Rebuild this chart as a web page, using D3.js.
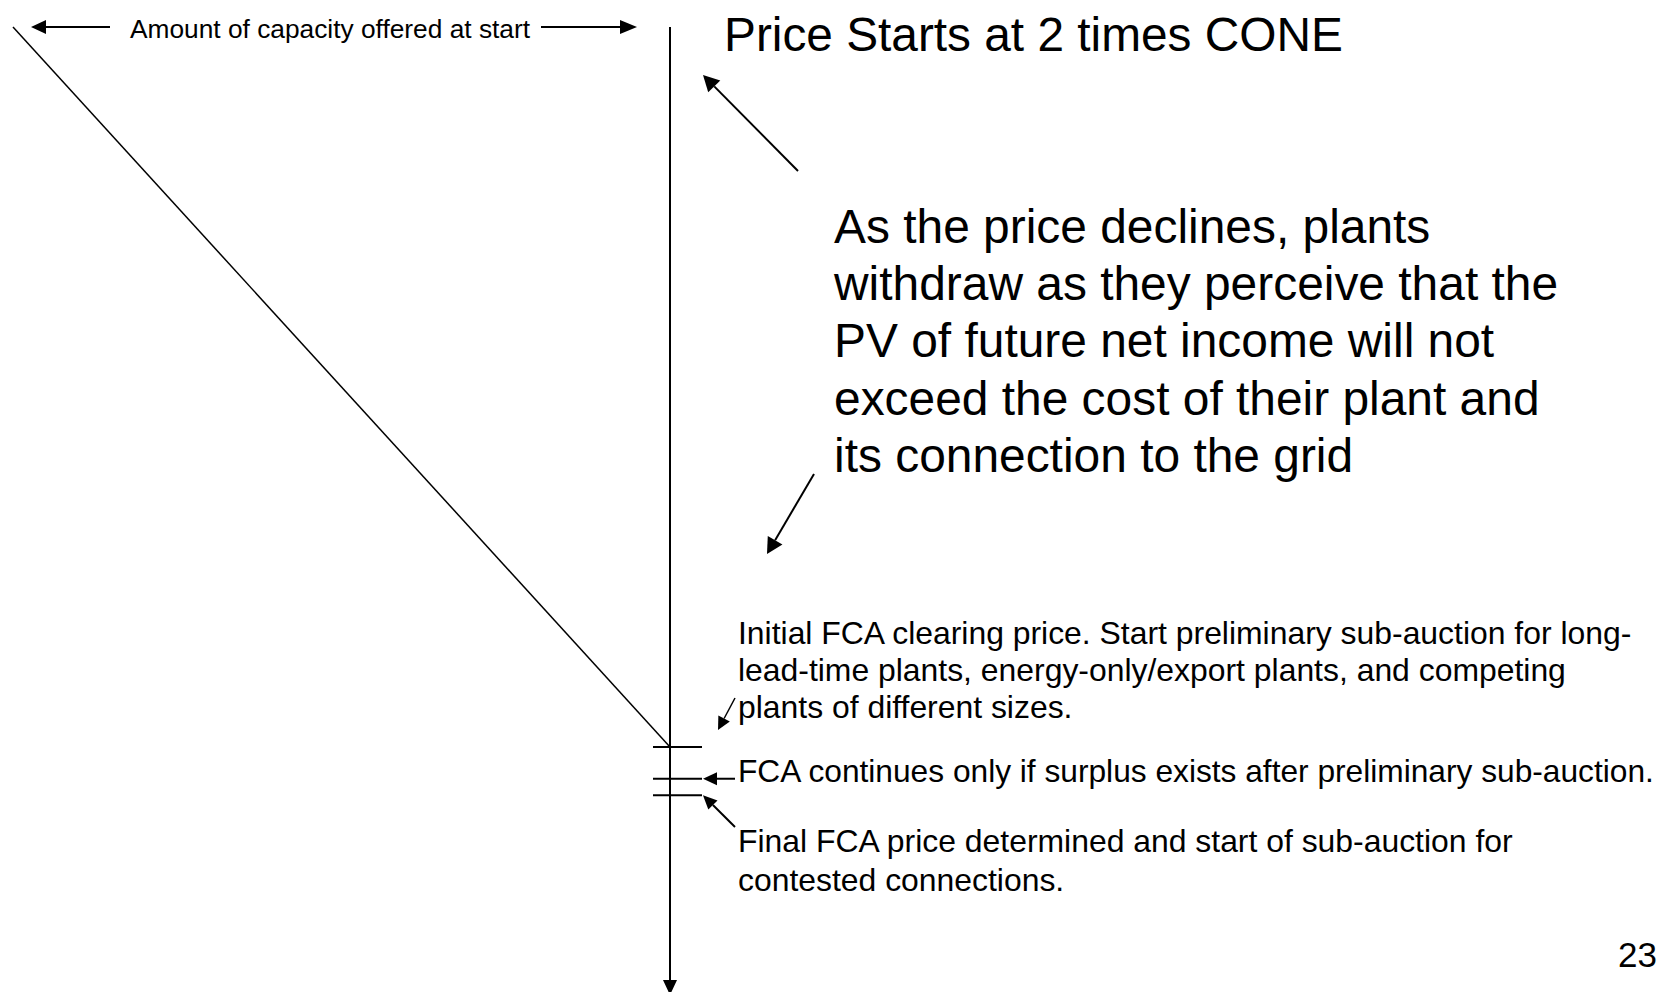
<!DOCTYPE html>
<html>
<head>
<meta charset="utf-8">
<script src="https://cdn.jsdelivr.net/npm/d3@7"></script>
<style>
  html, body { margin: 0; padding: 0; background: #fff; }
  svg { display: block; }
</style>
</head>
<body>
<div id="fca-auction"></div>
<script>
// price in multiples of CONE, capacity as share of what is offered at start
const priceRange = [2, 0];
const capacityRange = [0, 1];
const supplyCurve = [
  { capacity: 1, price: 2 },
  { capacity: 0, price: 0.508 }
];
const priceLevels = [0.508, 0.442, 0.408]; // initial clearing, continue, final

const topLabel = "Amount of capacity offered at start";
const titleText = "Price Starts at 2 times CONE";
const declineLines = [
  "As the price declines, plants",
  "withdraw as they perceive that the",
  "PV of future net income will not",
  "exceed the cost of their plant and",
  "its connection to the grid"
];
const initialLines = [
  "Initial FCA clearing price. Start preliminary sub-auction for long-",
  "lead-time plants, energy-only/export plants, and competing",
  "plants of different sizes."
];
const continueLines = ["FCA continues only if surplus exists after preliminary sub-auction."];
const finalLines = [
  "Final FCA price determined and start of sub-auction for",
  "contested connections."
];
const pageNumber = "23";

const renderAuction = (targetId) => {
  const width = 1665;
  const height = 992;
  const font = "'Liberation Sans', Arial, Helvetica, sans-serif";

  const svg = d3.select(`div#${targetId}`)
    .append("svg")
    .attr("width", width)
    .attr("height", height)
    .attr("viewBox", [0, 0, width, height]);

  // Scales: capacity runs leftwards from the price axis.
  const x = d3.scaleLinear(capacityRange, [670, 13]);
  const y = d3.scaleLinear(priceRange, [27, 992]);

  // draws a line with a filled triangular head at (x2, y2)
  const arrow = (g, x1, y1, x2, y2, len, wid, sw) => {
    const a = Math.atan2(y2 - y1, x2 - x1);
    const bx = x2 - len * Math.cos(a), by = y2 - len * Math.sin(a);
    const px = -Math.sin(a) * wid / 2, py = Math.cos(a) * wid / 2;
    g.append("line")
      .attr("x1", x1).attr("y1", y1).attr("x2", bx).attr("y2", by)
      .attr("stroke", "#000").attr("stroke-width", sw);
    g.append("path")
      .attr("d", `M${x2},${y2}L${bx + px},${by + py}L${bx - px},${by - py}Z`)
      .attr("fill", "#000");
  };

  const marks = svg.append("g");

  // supply line
  marks.append("path")
    .datum(supplyCurve)
    .attr("d", d3.line().x(d => x(d.capacity)).y(d => y(d.price)))
    .attr("fill", "none")
    .attr("stroke", "#000")
    .attr("stroke-width", 1.5);

  // price axis, arrow pointing down
  arrow(marks, x(0), y(priceRange[0]), x(0), height + 3, 15, 14, 2);

  // price level ticks
  marks.selectAll("line.level")
    .data(priceLevels)
    .join("line")
    .attr("class", "level")
    .attr("x1", x(0) - 17).attr("x2", x(0) + 32)
    .attr("y1", d => y(d)).attr("y2", d => y(d))
    .attr("stroke", "#000")
    .attr("stroke-width", 2);

  // capacity span arrows
  const yTop = y(priceRange[0]);
  arrow(marks, 110, yTop, x(1) + 18, yTop, 15, 14, 2);
  arrow(marks, 541, yTop, x(0) - 33, yTop, 17, 14, 2);

  // annotation arrows
  arrow(marks, 798, 171, 703, 75, 16, 17, 2);
  arrow(marks, 814, 474, 767, 554, 16, 17, 2);
  arrow(marks, 735, 698, 718, 730, 13, 13, 1.5);
  arrow(marks, 735, y(priceLevels[1]), x(0) + 33, y(priceLevels[1]), 14, 13, 2);
  arrow(marks, 735, 827, x(0) + 33, y(priceLevels[2]), 14, 13, 2);

  const block = (lines, x0, y0, size, lh) => {
    svg.append("text")
      .attr("font-family", font)
      .attr("font-size", size)
      .attr("fill", "#000")
      .selectAll("tspan")
      .data(lines)
      .join("tspan")
      .attr("x", x0)
      .attr("y", (d, i) => y0 + i * lh)
      .text(d => d);
  };

  block([topLabel], 130, 38, 26.3, 0);
  block([titleText], 724, 51, 47.8, 0);
  block(declineLines, 834, 243, 47.9, 57.2);
  block(initialLines, 738, 644, 31.9, 37.2);
  block(continueLines, 738, 782, 31.7, 0);
  block(finalLines, 738, 852, 31.9, 38.5);
  block([pageNumber], 1618, 967, 35, 0);
};

renderAuction("fca-auction");
</script>
</body>
</html>
